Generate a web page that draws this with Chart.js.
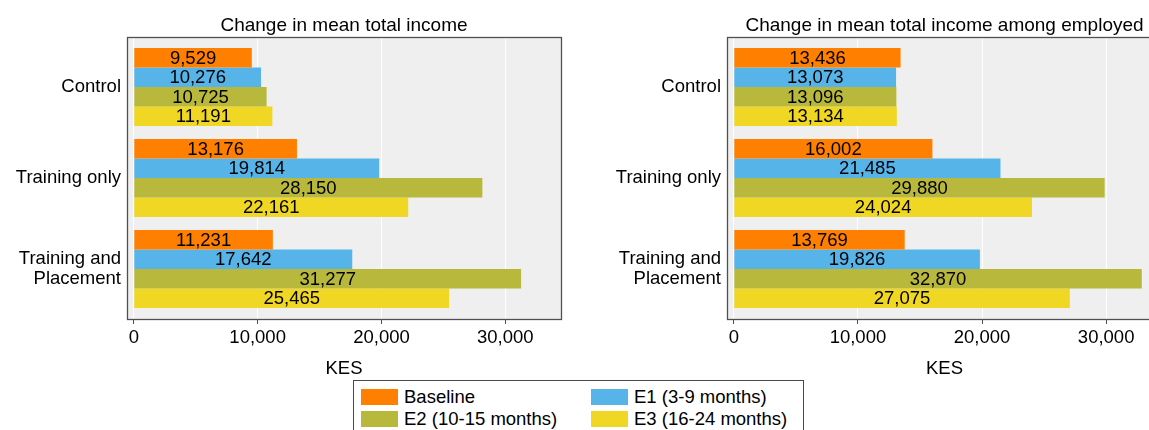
<!DOCTYPE html>
<html>
<head>
<meta charset="utf-8">
<script src="https://cdn.jsdelivr.net/npm/chart.js@4.4.1/dist/chart.umd.min.js"></script>
<style>
  html, body { margin: 0; padding: 0; background: #fff; overflow: hidden; width: 1149px; height: 430px; }
  #wrap { position: relative; width: 1149px; height: 430px; overflow: hidden; }
  canvas { position: absolute; top: 0; }
  #c1 { left: 0; }
  #c2 { left: 580px; }
  #legend {
    position: absolute; left: 353px; top: 380px; width: 451px; height: 60px;
    border: 1px solid #4a4a4a; background: #fff; box-sizing: border-box;
    font-family: "Liberation Sans", Arial, sans-serif; font-size: 18.5px; color: #000;
  }
  .item { position: absolute; height: 16px; line-height: 16px; white-space: nowrap; }
  .sw { position: absolute; left: 0; top: 0; width: 37px; height: 16px; }
  .lbl { position: absolute; left: 43px; top: 0; }
</style>
</head>
<body>
<div id="wrap">
  <canvas id="c1" width="580" height="430"></canvas>
  <canvas id="c2" width="600" height="430"></canvas>
  <div id="legend"></div>
</div>
<script>
// ---------- data ----------
const categories = ["Control", "Training only", ["Training and", "Placement"]];
const seriesNames = ["Baseline", "E1 (3-9 months)", "E2 (10-15 months)", "E3 (16-24 months)"];
const seriesColors = ["#FF7F00", "#56B4E9", "#B8B83C", "#F0D723"];

const titleLeft = "Change in mean total income";
const baselineLeft = [9529, 13176, 11231];
const e1Left = [10276, 19814, 17642];
const e2Left = [10725, 28150, 31277];
const e3Left = [11191, 22161, 25465];

const titleRight = "Change in mean total income among employed";
const baselineRight = [13436, 16002, 13769];
const e1Right = [13073, 21485, 19826];
const e2Right = [13096, 29880, 32870];
const e3Right = [13134, 24024, 27075];

const xTicks = [0, 10000, 20000, 30000];
const xTitle = "KES";

const FONT = '"Liberation Sans", Arial, sans-serif';
const FS = 18.5;
const fmt = v => v.toLocaleString('en-US');

const panelPlugin = {
  id: 'panel',
  beforeDraw(chart) {
    const {ctx, chartArea: a} = chart;
    ctx.save();
    ctx.fillStyle = '#EFEFEF';
    ctx.fillRect(a.left, a.top, a.right - a.left, a.bottom - a.top);
    ctx.restore();
  },
  afterDatasetsDraw(chart) {
    const {ctx, chartArea: a} = chart;
    ctx.save();
    // value labels
    ctx.font = FS + 'px ' + FONT;
    ctx.fillStyle = '#000';
    ctx.textAlign = 'center';
    ctx.textBaseline = 'middle';
    chart.data.datasets.forEach((ds, i) => {
      chart.getDatasetMeta(i).data.forEach((bar, j) => {
        const x = (bar.x + bar.base) / 2;
        ctx.fillText(fmt(ds.data[j].x), x, bar.y + 1);
      });
    });
    // frame
    ctx.strokeStyle = '#505050';
    ctx.lineWidth = 1.3;
    ctx.strokeRect(Math.round(a.left) + 0.5, Math.round(a.top) + 0.5,
                   Math.round(a.right - a.left), Math.round(a.bottom - a.top));
    // title
    ctx.font = '19px ' + FONT;
    ctx.textBaseline = 'middle';
    ctx.fillText(chart.options.plugins.panel.title, (a.left + a.right) / 2, a.top - 11);
    ctx.restore();
  }
};

function makeChart(id, title, b, e1, e2, e3, yWidth, padRight) {
  const series = [b, e1, e2, e3];
  const datasets = series.map((arr, i) => ({
    label: seriesNames[i],
    data: arr.map((v, j) => ({x: v, y: j})),
    backgroundColor: seriesColors[i],
    borderWidth: 0,
    categoryPercentage: 0.855,
    barPercentage: 1.0
  }));
  return new Chart(document.getElementById(id), {
    type: 'bar',
    data: {datasets},
    plugins: [panelPlugin],
    options: {
      indexAxis: 'y',
      responsive: false,
      animation: false,
      layout: {padding: {top: 37, right: padRight, bottom: 0, left: 0}},
      plugins: {
        legend: {display: false},
        tooltip: {enabled: false},
        panel: {title}
      },
      scales: {
        x: {
          type: 'linear',
          min: -550, max: 34500,
          offset: false,
          afterBuildTicks: s => { s.ticks = xTicks.map(v => ({value: v})); },
          afterFit: s => { s.height = 111; },
          grid: {color: '#FFFFFF', lineWidth: 1, tickColor: '#505050', tickLength: 5, drawOnChartArea: true, offset: false},
          border: {display: false},
          ticks: {
            color: '#000', font: {family: FONT, size: FS}, padding: 3,
            maxRotation: 0, autoSkip: false,
            callback: v => fmt(v)
          },
          title: {display: true, text: xTitle, color: '#000', font: {family: FONT, size: FS}, padding: {top: 0, bottom: 50}}
        },
        y: {
          type: 'linear',
          reverse: true,
          offset: false,
          min: -0.549, max: 2.549,
          afterBuildTicks: s => { s.ticks = categories.map((c, i) => ({value: i})); },
          afterFit: s => { s.width = yWidth; },
          grid: {display: false, drawTicks: false, tickLength: 0, offset: false},
          border: {display: false},
          ticks: {
            color: '#000', font: {family: FONT, size: FS, lineHeight: 1.1}, padding: 6,
            autoSkip: false,
            callback: v => categories[v]
          }
        }
      }
    }
  });
}

makeChart('c1', titleLeft, baselineLeft, e1Left, e2Left, e3Left, 127, 19);
makeChart('c2', titleRight, baselineRight, e1Right, e2Right, e3Right, 147, 18);

// ---------- legend ----------
const legend = document.getElementById('legend');
const pos = [[7, 7.5], [237, 7.5], [7, 30], [237, 30]];
const order = [0, 1, 2, 3];
order.forEach((i, k) => {
  const it = document.createElement('div');
  it.className = 'item';
  it.style.left = pos[k][0] + 'px';
  it.style.top = pos[k][1] + 'px';
  it.innerHTML = '<div class="sw" style="background:' + seriesColors[i] + '"></div><div class="lbl">' + seriesNames[i] + '</div>';
  legend.appendChild(it);
});
</script>
</body>
</html>
